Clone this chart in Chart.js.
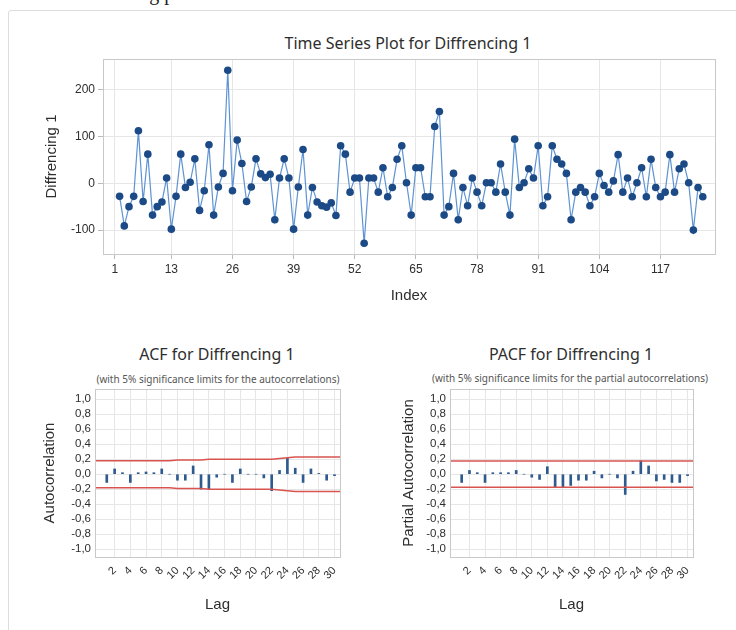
<!DOCTYPE html>
<html>
<head>
<meta charset="utf-8">
<script src="https://cdn.jsdelivr.net/npm/chart.js@4.4.1/dist/chart.umd.min.js"></script>
<style>
  body { margin: 0; width: 736px; height: 630px; overflow: hidden; background: #fff; position: relative;
         font-family: "Noto Sans", "Open Sans", sans-serif; color: #2e2e2e; }
  canvas { position: absolute; }
  .frame { position: absolute; left: 8px; top: 10px; width: 760px; height: 660px; border: 1px solid #dcdcdc; border-radius: 3px; }
  .doc { position: absolute; left: 62px; top: -18px; font-family: "Liberation Serif", serif; font-size: 20px; color: #222; white-space: nowrap; }
  .t { position: absolute; transform: translate(-50%, -50%); white-space: nowrap; }
</style>
</head>
<body>
<div class="doc">differencing pertama</div>
<div class="frame"></div>

<div class="t" style="left:408px;top:43px;font-size:16px;">Time Series Plot for Diffrencing 1</div>
<div class="t" style="left:217px;top:354px;font-size:16px;">ACF for Diffrencing 1</div>
<div class="t" style="left:218px;top:379px;font-size:10px;color:#555;">(with 5% significance limits for the autocorrelations)</div>
<div class="t" style="left:571px;top:354px;font-size:16px;">PACF for Diffrencing 1</div>
<div class="t" style="left:570px;top:378px;font-size:10px;color:#555;">(with 5% significance limits for the partial autocorrelations)</div>

<canvas id="tsChart" width="736" height="310" style="left:0;top:0"></canvas>
<canvas id="acfChart" width="368" height="320" style="left:0;top:310px"></canvas>
<canvas id="pacfChart" width="368" height="320" style="left:368px;top:310px"></canvas>

<script>
// time series: first difference, index 1 is missing
const firstIndex = 2;
const diffValues = [
  -28, -91, -50, -28, 112, -39, 62, -68, -50, -40,
  11, -98, -28, 62, -9, 2, 52, -58, -16, 82,
  -68, -8, 21, 241, -16, 92, 42, -39, -8, 52,
  20, 12, 19, -78, 11, 52, 11, -98, -8, 72,
  -68, -9, -40, -48, -51, -42, -69, 80, 62, -19,
  11, 11, -128, 11, 11, -19, 33, -29, -9, 51,
  80, 1, -68, 33, 33, -29, -29, 121, 153, -68,
  -50, 21, -78, -9, -48, 11, -19, -48, 1, 1,
  -19, 41, -19, -68, 94, -9, 1, 31, 11, 80,
  -48, -29, 80, 51, 41, 21, -78, -19, -9, -19,
  -48, -29, 21, -5, -19, 5, 61, -19, 11, -29,
  1, 33, -29, 51, -9, -29, -19, 61, -19, 31,
  41, 1, -100, -9, -29
];
const indexTicks = [1, 13, 26, 39, 52, 65, 78, 91, 104, 117];
const diffTicks = [-100, 0, 100, 200];

// ACF / PACF
const lags = [1,2,3,4,5,6,7,8,9,10,11,12,13,14,15,16,17,18,19,20,21,22,23,24,25,26,27,28,29,30];
const acfValues = [-0.11, 0.07, 0.02, -0.11, 0.02, 0.03, 0.02, 0.07, 0.00, -0.08,
                   -0.08, 0.11, -0.20, -0.20, -0.04, 0.00, -0.11, 0.07, 0.00, 0.00,
                   -0.05, -0.22, 0.05, 0.21, 0.08, -0.11, 0.07, 0.01, -0.08, -0.02];
const acfUpper = [0.18, 0.18, 0.18, 0.18, 0.18, 0.18, 0.18, 0.18, 0.18, 0.19,
                  0.19, 0.19, 0.19, 0.20, 0.20, 0.20, 0.20, 0.20, 0.20, 0.20,
                  0.20, 0.20, 0.21, 0.22, 0.23, 0.23, 0.23, 0.23, 0.23, 0.23];
const acfLower = [-0.18, -0.18, -0.18, -0.18, -0.18, -0.18, -0.18, -0.18, -0.18, -0.19,
                  -0.19, -0.19, -0.19, -0.20, -0.20, -0.20, -0.20, -0.20, -0.20, -0.20,
                  -0.20, -0.20, -0.21, -0.22, -0.23, -0.23, -0.23, -0.23, -0.23, -0.23];
const pacfValues = [-0.11, 0.05, 0.02, -0.11, 0.02, 0.02, 0.02, 0.05, 0.00, -0.04,
                    -0.07, 0.10, -0.17, -0.17, -0.15, -0.08, -0.08, 0.04, -0.05, 0.00,
                    -0.05, -0.27, 0.04, 0.18, 0.11, -0.09, -0.07, -0.11, -0.11, -0.02];
const pacfUpper = 0.175;
const pacfLower = -0.175;
const lagTicks = [2,4,6,8,10,12,14,16,18,20,22,24,26,28,30];
const corrTicks = [-1, -0.8, -0.6, -0.4, -0.2, 0, 0.2, 0.4, 0.6, 0.8, 1];

const textColor = '#2e2e2e';
const gridColor = '#e6e6e6';
const lagMin = -0.5, lagMax = 30.7;

// box around the plot area (Minitab draws all four sides)
const frameBox = {
  id: 'frameBox',
  afterDraw(chart) {
    const a = chart.chartArea, ctx = chart.ctx;
    ctx.save();
    ctx.strokeStyle = '#c9c9c9';
    ctx.lineWidth = 1;
    ctx.strokeRect(Math.round(a.left) + 0.5, Math.round(a.top) + 0.5, Math.round(a.right - a.left), Math.round(a.bottom - a.top));
    ctx.restore();
  }
};

function setTicks(list) {
  return s => { s.ticks = list.map(v => ({ value: v })); };
}

function initTimeSeries() {
  const points = diffValues.map((v, i) => ({ x: firstIndex + i, y: v }));
  new Chart(document.getElementById('tsChart'), {
    type: 'line',
    data: { datasets: [{
      data: points, borderColor: '#5e93d3', borderWidth: 1.2, tension: 0,
      pointRadius: 3.8, pointBackgroundColor: '#1b4a86', pointBorderColor: '#1b4a86', pointBorderWidth: 0
    }] },
    options: {
      responsive: false, animation: false,
      layout: { padding: { left: 0, right: 21, top: 59, bottom: 0 } },
      plugins: { legend: { display: false }, tooltip: { enabled: false } },
      scales: {
        x: {
          type: 'linear', min: -1.53, max: 128.6,
          afterBuildTicks: setTicks(indexTicks),
          afterFit: s => { s.height = 56; },
          grid: { color: gridColor, tickColor: '#bbb', tickLength: 5 },
          border: { color: '#c9c9c9' },
          ticks: { color: textColor, font: { size: 12 }, padding: 3, maxRotation: 0, autoSkip: false },
          title: { display: true, text: 'Index', color: textColor, font: { size: 15 }, padding: { bottom: 5 } }
        },
        y: {
          min: -151, max: 265,
          afterBuildTicks: setTicks(diffTicks),
          afterFit: s => { s.width = 103; },
          grid: { color: gridColor, tickColor: '#bbb', tickLength: 5 },
          border: { color: '#c9c9c9' },
          ticks: { color: textColor, font: { size: 12 }, padding: 3, autoSkip: false },
          title: { display: true, text: 'Diffrencing 1', color: textColor, font: { size: 15 }, padding: { top: 43 } }
        }
      }
    },
    plugins: [frameBox]
  });
}

function initCorrChart(id, values, upper, lower, yTitle, plotLeft, plotRight, titlePad) {
  const bars = lags.map((l, i) => ({ x: l, y: values[i] }));
  const up = lags.map((l, i) => ({ x: l, y: upper[i] }));
  const lo = lags.map((l, i) => ({ x: l, y: lower[i] }));
  // limit lines run across the whole plot
  up.unshift({ x: lagMin, y: upper[0] }); up.push({ x: lagMax, y: upper[upper.length - 1] });
  lo.unshift({ x: lagMin, y: lower[0] }); lo.push({ x: lagMax, y: lower[lower.length - 1] });

  new Chart(document.getElementById(id), {
    type: 'bar',
    data: { datasets: [
      { type: 'line', data: up, borderColor: '#d9534f', borderWidth: 1.5, pointRadius: 0, tension: 0 },
      { type: 'line', data: lo, borderColor: '#d9534f', borderWidth: 1.5, pointRadius: 0, tension: 0 },
      { type: 'bar', data: bars, backgroundColor: '#2f5a8e', barThickness: 2 }
    ] },
    options: {
      responsive: false, animation: false,
      layout: { padding: { left: 0, right: 368 - plotRight, top: 79, bottom: 0 } },
      plugins: { legend: { display: false }, tooltip: { enabled: false } },
      scales: {
        x: {
          type: 'linear', min: lagMin, max: lagMax, offset: false,
          afterBuildTicks: setTicks(lagTicks),
          afterFit: s => { s.height = 73; },
          grid: { color: gridColor, offset: false, drawTicks: false },
          border: { color: '#c9c9c9' },
          ticks: { color: textColor, font: { size: 11 }, padding: 7, minRotation: 45, maxRotation: 45, autoSkip: false },
          title: { display: true, text: 'Lag', color: textColor, font: { size: 15 }, padding: { bottom: 16 } }
        },
        y: {
          min: -1.104, max: 1.136,
          afterBuildTicks: setTicks(corrTicks),
          afterFit: s => { s.width = plotLeft; },
          grid: { color: gridColor, drawTicks: false },
          border: { color: '#c9c9c9' },
          ticks: { color: textColor, font: { size: 11.5 }, padding: 4, autoSkip: false,
                   callback: v => (Math.abs(v) < 1e-9 ? 0 : v).toFixed(1).replace('.', ',') },
          title: { display: true, text: yTitle, color: textColor, font: { size: 15 }, padding: { top: titlePad } }
        }
      }
    },
    plugins: [frameBox]
  });
}

initTimeSeries();
initCorrChart('acfChart', acfValues, acfUpper, acfLower, 'Autocorrelation', 95, 340, 41);
initCorrChart('pacfChart', pacfValues, lags.map(() => pacfUpper), lags.map(() => pacfLower),
              'Partial Autocorrelation', 82, 325, 32);
</script>
</body>
</html>
